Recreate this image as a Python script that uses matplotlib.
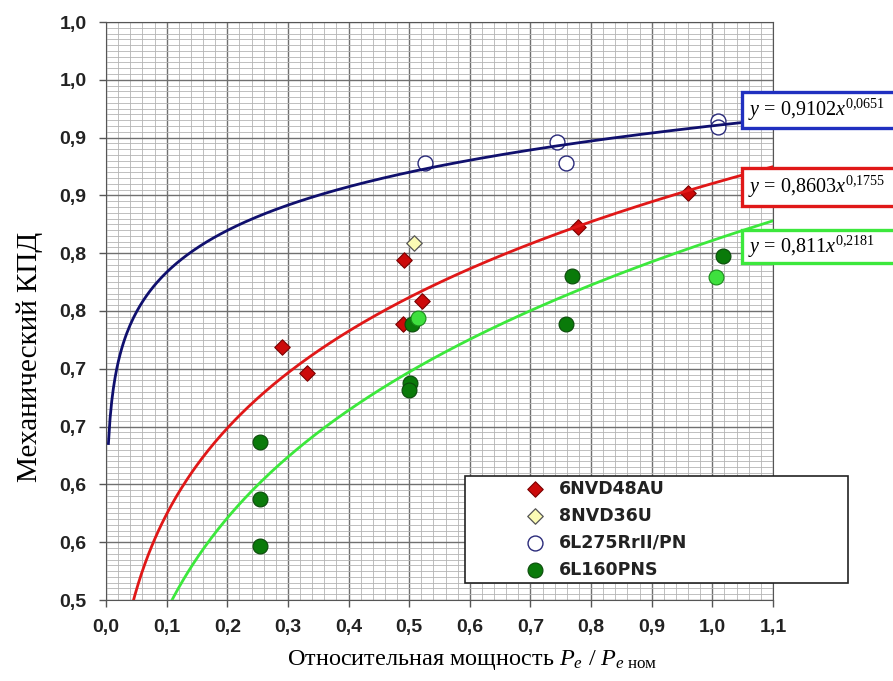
import numpy as np
import matplotlib
matplotlib.use("Agg")
import matplotlib.pyplot as plt
from matplotlib.patches import Rectangle
from matplotlib.ticker import MultipleLocator, FuncFormatter

plt.rcParams['mathtext.fontset'] = 'custom'
plt.rcParams['mathtext.rm'] = 'Liberation Serif'
plt.rcParams['mathtext.it'] = 'Liberation Serif:italic'

# --- данные ---
x_6nvd48 = [0.290, 0.331, 0.492, 0.490, 0.521, 0.779, 0.959]
y_6nvd48 = [0.719, 0.696, 0.794, 0.739, 0.759, 0.823, 0.852]

x_8nvd36 = [0.508]
y_8nvd36 = [0.809]

x_6l275 = [0.526, 0.743, 0.758, 1.010, 1.010]
y_6l275 = [0.878, 0.896, 0.878, 0.914, 0.909]

x_6l160 = [0.254, 0.254, 0.254, 0.504, 0.502, 0.499, 0.768, 0.759, 1.017]
y_6l160 = [0.637, 0.587, 0.547, 0.739, 0.688, 0.682, 0.780, 0.739, 0.798]

# светло-зелёные точки (без подписи в легенде)
x_light = [0.514, 1.006]
y_light = [0.744, 0.779]

# степенные линии тренда y = a*x^b
trend_a = [0.9102, 0.8603, 0.811]
trend_b = [0.0651, 0.1755, 0.2181]
trend_col = ['#10106e', '#e01818', '#3ce83c']
trend_txt = ['0,9102', '0,8603', '0,811']
trend_exp = ['0{,}0651', '0{,}1755', '0{,}2181']

W, H = 893, 681
fig = plt.figure(figsize=(W / 100, H / 100), dpi=100)
ax = fig.add_axes([106 / W, 1 - 600 / H, 667 / W, 578 / H])


def px(x, y):
    return x / W, 1 - y / H


ax.set_xlim(0, 1.1)
ax.set_ylim(0.5, 1.0)
ax.xaxis.set_major_locator(MultipleLocator(0.1))
ax.xaxis.set_minor_locator(MultipleLocator(0.02))
ax.yaxis.set_major_locator(MultipleLocator(0.05))
ax.yaxis.set_minor_locator(MultipleLocator(0.005))
ax.grid(which='minor', color='#b4b4b4', lw=0.6)
ax.grid(which='major', color='#707070', lw=1.0)
ax.set_axisbelow(True)


def fmt(v, pos):
    t = int(v * 10 + 0.5 + 1e-6)
    return f"{t // 10},{t % 10}"


ax.xaxis.set_major_formatter(FuncFormatter(fmt))
ax.yaxis.set_major_formatter(FuncFormatter(fmt))
ax.tick_params(which='major', length=5, width=1, color='#555555', pad=9,
               labelsize=14)
ax.tick_params(which='minor', length=0)
for lab in ax.get_xticklabels() + ax.get_yticklabels():
    lab.set_fontfamily('Liberation Sans')
    lab.set_fontweight('bold')
    lab.set_color('#222222')
for s in ax.spines.values():
    s.set_color('#555555')

xs = np.linspace(0.004, 1.1, 400)
for a, b, c in zip(trend_a, trend_b, trend_col):
    ax.plot(xs, a * xs ** b, color=c, lw=2.0, zorder=5)

ax.scatter(x_6nvd48, y_6nvd48, marker='D', s=62, color='#cc0a0a',
           edgecolors='#7a0000', lw=0.8, zorder=4, label='6NVD48AU')
ax.scatter(x_8nvd36, y_8nvd36, marker='D', s=62, color='#fbfbb4',
           edgecolors='#555555', lw=0.9, zorder=4, label='8NVD36U')
ax.scatter(x_6l275, y_6l275, marker='o', s=115, color='white',
           edgecolors='#2a2a7a', lw=1.0, zorder=4, label='6L275RrII/PN')
ax.scatter(x_6l160, y_6l160, marker='o', s=115, color='#0a7a0a',
           edgecolors='#0a4a0a', lw=0.8, zorder=4, label='6L160PNS')
ax.scatter(x_light, y_light, marker='o', s=115, color='#3ee03e',
           edgecolors='#1a8a1a', lw=0.8, zorder=4)

# рамка легенды
x0, y0 = px(465, 583)
fig.patches.append(Rectangle((x0, y0), 383 / W, 107 / H, transform=fig.transFigure,
                             facecolor='white', edgecolor='#222222', lw=1.2,
                             zorder=10))
lx, ly = px(525, 478)
leg = fig.legend(loc='upper left', bbox_to_anchor=(lx, ly), frameon=False,
                 prop={'family': 'DejaVu Sans', 'weight': 'bold', 'size': 12.5},
                 handlelength=1.0, handletextpad=0.85, labelspacing=0.52,
                 borderpad=0.1, borderaxespad=0)
leg.set_zorder(11)
for t in leg.get_texts():
    t.set_color('#222222')

# подписи линий тренда
boxes = [(92, 128), (168, 206), (230, 263)]
for (t0, t1), c, a_s, e_s in zip(boxes, trend_col, trend_txt, trend_exp):
    bx, by = px(742, t1)
    edge = '#2030c0' if c == trend_col[0] else c
    fig.patches.append(Rectangle((bx, by), 200 / W, (t1 - t0) / H,
                                 transform=fig.transFigure, facecolor='white',
                                 edgecolor=edge, lw=2.4, zorder=10))
    tx, ty = px(748, (t0 + t1) / 2)
    fig.text(tx, ty, rf"$y$ = {a_s}$x^{{{e_s}}}$", family='Liberation Serif',
             fontsize=14.5, va='center', ha='left', zorder=12)

fig.text(*px(472, 660), r"Относительная мощность $P_e$ / $P_{e\ \mathrm{ном}}$",
         family='Liberation Serif', fontsize=17.5, ha='center', va='center')
fig.text(*px(30, 357), "Механический КПД", family='Liberation Serif',
         fontsize=21, rotation=90, ha='center', va='center')

fig.savefig('out.png', dpi=100)
